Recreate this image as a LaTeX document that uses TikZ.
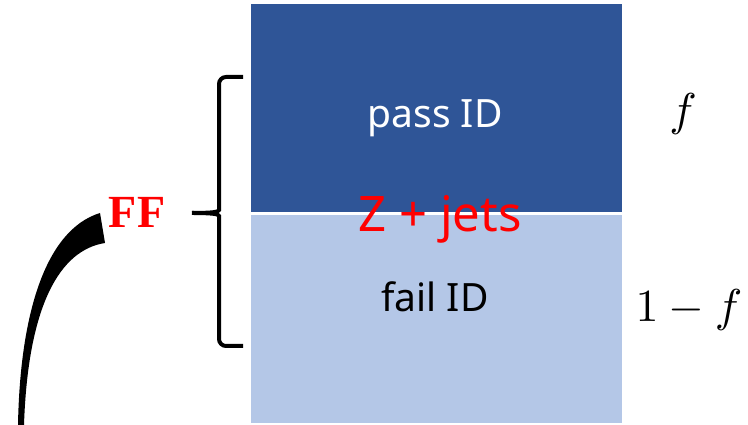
\documentclass[tikz,border=0pt]{standalone}
\usepackage{fontspec}
\setmainfont{Liberation Serif}
\newfontfamily\boxfont{Noto Sans}
\definecolor{passblue}{HTML}{2F5597}
\definecolor{failblue}{HTML}{B4C7E7}

\begin{document}
\begin{tikzpicture}[x=1pt, y=1pt,
  catbox/.style = {minimum width=371pt, minimum height=208pt, inner sep=0pt},
  boxtext/.style = {font=\boxfont\fontsize{39}{42}\selectfont, inner sep=0pt, anchor=base},
  fractext/.style = {font=\normalsize, scale=4.6, inner sep=0pt, anchor=base}]
\useasboundingbox (0,0) rectangle (748,425);

% Create the two categories
\node[catbox, fill=passblue] (pass) at (436.5,317) {};
\node[catbox, fill=failblue] (fail) at (436.5,106) {};

% Label the categories
\node[boxtext, white] (passlbl) at (435,297) {pass ID};
\node[boxtext, black] (faillbl) at (435,113) {fail ID};
\node[boxtext, red, font=\boxfont\fontsize{49}{52}\selectfont] (zjets) at (440,193) {Z + jets};

% Label the fractions
\node[fractext] (frac) at (683,299) {$f$};
\node[fractext] (antifrac) at (689,103) {$1-f$};

% Create the brace
\coordinate (bracetop) at (243,348);
\coordinate (bracebot) at (243,79);
\draw[line width=4pt, rounded corners=7pt] (bracetop) -- (219,348) -- (219,222)
  .. controls (219,213) and (212,212) .. (192,212);
\draw[line width=4pt, rounded corners=7pt] (192,212) .. controls (212,212) and (219,211) .. (219,202)
  -- (219,79) -- (bracebot);

% Label the FF region
\node[red, font=\bfseries\fontsize{46}{48}\selectfont, inner sep=0pt, anchor=base] (ff) at (137,197) {FF};

% Create the horn pointing at FF
\fill (18,0) .. controls (20,110) and (45,195) .. (100,212) -- (105,182)
  .. controls (60,175) and (28,120) .. (24,0) -- cycle;

\end{tikzpicture}
\end{document}
